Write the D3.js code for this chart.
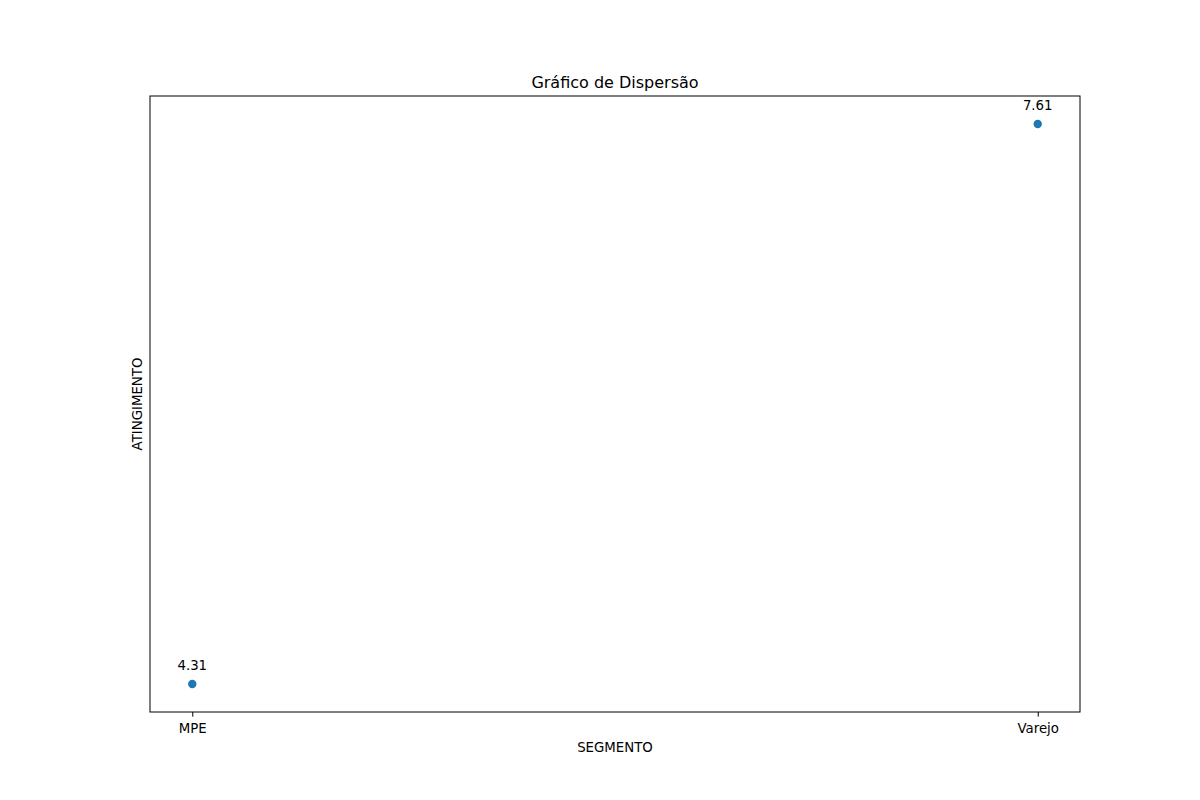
<!DOCTYPE html>
<html><head><meta charset="utf-8">
<script src="https://cdn.jsdelivr.net/npm/d3@7"></script>
<style>body{margin:0;background:#fff}svg{display:block;font-family:"DejaVu Sans",sans-serif}</style>
</head><body>
<script>
const categories = ["MPE", "Varejo"];
const values = [4.31, 7.61];
const labels = ["4.31", "7.61"];

const W = 1200, H = 800;
const L = 150, R = 1080, T = 96, B = 712;
const svg = d3.select("body").append("svg").attr("width", W).attr("height", H);

const x = d3.scaleLinear().domain([-0.05, 1.05]).range([L, R]);
const ymin = d3.min(values), ymax = d3.max(values), pad = (ymax - ymin) * 0.05;
const y = d3.scaleLinear().domain([ymin - pad, ymax + pad]).range([B, T]);

const xAxis = d3.axisBottom(x).tickValues(categories.map((d, i) => i))
  .tickFormat(i => categories[i]).tickSize(4.67).tickPadding(6.5);
const gx = svg.append("g").attr("transform", `translate(0,${B})`).call(xAxis);
gx.select(".domain").remove();
gx.selectAll("line").attr("stroke", "#000").attr("stroke-width", 1);
gx.selectAll("text").attr("font-size", "13.33px").attr("fill", "#000")
  .attr("font-family", "DejaVu Sans");

svg.append("rect").attr("x", L).attr("y", T).attr("width", R - L).attr("height", B - T)
  .attr("fill", "none").attr("stroke", "#000").attr("stroke-width", 1);

svg.selectAll("circle.pt").data(values).join("circle").attr("class", "pt")
  .attr("cx", (d, i) => x(i)).attr("cy", d => y(d)).attr("r", 4.2).attr("fill", "#1f77b4");

svg.selectAll("text.ann").data(values).join("text").attr("class", "ann")
  .attr("x", (d, i) => x(i)).attr("y", d => y(d) - 14)
  .attr("text-anchor", "middle").attr("font-size", "13.33px").attr("fill", "#000")
  .text((d, i) => labels[i]);

svg.append("text").attr("x", (L + R) / 2).attr("y", T - 8)
  .attr("text-anchor", "middle").attr("font-size", "16px").attr("fill", "#000")
  .text("Gráfico de Dispersão");

svg.append("text").attr("x", (L + R) / 2).attr("y", 752)
  .attr("text-anchor", "middle").attr("font-size", "13.33px").attr("fill", "#000")
  .text("SEGMENTO");

svg.append("text").attr("transform", `translate(142,${(T + B) / 2}) rotate(-90)`)
  .attr("text-anchor", "middle").attr("font-size", "13.33px").attr("fill", "#000")
  .text("ATINGIMENTO");
</script>
</body></html>
